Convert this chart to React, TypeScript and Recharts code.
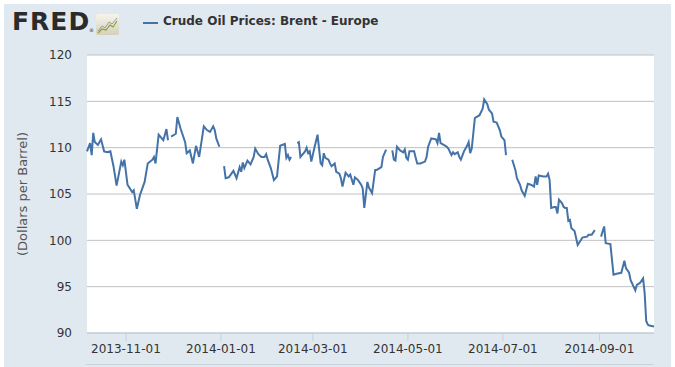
import { LineChart, Line, XAxis, YAxis, CartesianGrid } from 'recharts';

// Brent daily close (null = no quote, line breaks)
const dates = [
  '2013-10-07', '2013-10-09', '2013-10-10', '2013-10-11', '2013-10-12', '2013-10-14', '2013-10-16', '2013-10-18',
  '2013-10-20', '2013-10-22', '2013-10-24', '2013-10-26', '2013-10-29', '2013-10-30', '2013-10-31', '2013-11-02',
  '2013-11-05', '2013-11-06', '2013-11-08', '2013-11-10', '2013-11-13', '2013-11-15', '2013-11-18', '2013-11-19',
  '2013-11-20', '2013-11-22', '2013-11-25', '2013-11-27', '2013-11-28', '2013-11-29', '2013-11-30', '2013-12-03',
  '2013-12-04', '2013-12-06', '2013-12-09', '2013-12-10', '2013-12-12', '2013-12-14', '2013-12-16', '2013-12-18',
  '2013-12-21', '2013-12-23', '2013-12-25', '2013-12-27', '2013-12-28', '2013-12-29', '2013-12-31', '2014-01-02',
  '2014-01-03', '2014-01-04', '2014-01-06', '2014-01-09', '2014-01-11', '2014-01-13', '2014-01-14', '2014-01-15',
  '2014-01-16', '2014-01-18', '2014-01-20', '2014-01-22', '2014-01-23', '2014-01-25', '2014-01-27', '2014-01-29',
  '2014-01-30', '2014-01-31', '2014-02-02', '2014-02-04', '2014-02-06', '2014-02-08', '2014-02-11', '2014-02-12',
  '2014-02-13', '2014-02-14', '2014-02-15', '2014-02-17', '2014-02-19', '2014-02-20', '2014-02-21', '2014-02-24',
  '2014-02-25', '2014-02-26', '2014-02-27', '2014-02-28', '2014-03-02', '2014-03-04', '2014-03-06', '2014-03-07',
  '2014-03-08', '2014-03-09', '2014-03-11', '2014-03-12', '2014-03-13', '2014-03-15', '2014-03-16', '2014-03-18',
  '2014-03-19', '2014-03-20', '2014-03-22', '2014-03-24', '2014-03-25', '2014-03-27', '2014-03-28', '2014-03-30',
  '2014-04-01', '2014-04-02', '2014-04-03', '2014-04-05', '2014-04-06', '2014-04-08', '2014-04-10', '2014-04-11',
  '2014-04-14', '2014-04-15', '2014-04-17', '2014-04-19', '2014-04-21', '2014-04-22', '2014-04-23', '2014-04-24',
  '2014-04-26', '2014-04-28', '2014-04-29', '2014-04-30', '2014-05-01', '2014-05-02', '2014-05-05', '2014-05-06',
  '2014-05-07', '2014-05-09', '2014-05-12', '2014-05-13', '2014-05-14', '2014-05-16', '2014-05-19', '2014-05-20',
  '2014-05-21', '2014-05-22', '2014-05-24', '2014-05-26', '2014-05-27', '2014-05-29', '2014-05-30', '2014-05-31',
  '2014-06-02', '2014-06-03', '2014-06-04', '2014-06-06', '2014-06-08', '2014-06-09', '2014-06-10', '2014-06-11',
  '2014-06-13', '2014-06-14', '2014-06-16', '2014-06-18', '2014-06-19', '2014-06-21', '2014-06-22', '2014-06-24',
  '2014-06-25', '2014-06-27', '2014-06-29', '2014-06-30', '2014-07-02', '2014-07-03', '2014-07-04', '2014-07-07',
  '2014-07-09', '2014-07-10', '2014-07-12', '2014-07-13', '2014-07-15', '2014-07-17', '2014-07-19', '2014-07-21',
  '2014-07-22', '2014-07-23', '2014-07-24', '2014-07-27', '2014-07-29', '2014-07-30', '2014-07-31', '2014-08-01',
  '2014-08-03', '2014-08-04', '2014-08-05', '2014-08-06', '2014-08-08', '2014-08-09', '2014-08-10', '2014-08-11',
  '2014-08-12', '2014-08-13', '2014-08-14', '2014-08-16', '2014-08-18', '2014-08-20', '2014-08-21', '2014-08-24',
  '2014-08-25', '2014-08-27', '2014-08-29', '2014-09-01', '2014-09-02', '2014-09-04', '2014-09-05', '2014-09-08',
  '2014-09-10', '2014-09-12', '2014-09-15', '2014-09-17', '2014-09-18', '2014-09-20', '2014-09-21', '2014-09-24',
  '2014-09-25', '2014-09-27', '2014-09-29', '2014-09-30', '2014-10-01', '2014-10-02', '2014-10-03', '2014-10-06',
];

const prices: (number | null)[] = [
  109.6, 110.5, 109.2, 111.6, 110.6, 110.3, 110.9, 109.6,
  109.5, 109.6, 108.0, 105.9, 108.5, 108.1, 108.7, 106.0,
  105.2, 105.4, 103.4, 104.9, 106.3, 108.3, 108.7, 109.0,
  108.3, 111.4, 110.8, 112.0, 110.8, null, 111.2, 111.5,
  113.3, 112.1, 110.6, 109.4, 109.7, 108.3, 110.2, 109.0,
  112.3, 111.9, 111.7, 112.3, 111.9, 111.0, 110.1, null,
  108.0, 106.7, 106.8, 107.5, 106.7, 107.9, 107.4, 108.4,
  107.8, 108.6, 108.2, 109.0, 109.9, 109.3, 109.0, 109.0,
  109.3, 108.7, 107.8, 106.5, 106.9, 110.2, 110.4, 108.9,
  109.2, 108.7, 109.0, null, 110.5, 110.6, 109.0, 109.6,
  110.0, 109.4, 109.6, 108.5, 110.0, 111.4, 108.3, 108.1,
  109.4, 108.9, 108.7, 108.3, 108.0, 108.3, 107.4, 107.2,
  106.7, 105.8, 107.3, 106.9, 107.1, 106.0, 106.8, 106.5,
  106.0, 105.6, 103.5, 106.3, 105.7, 105.1, 107.6, 107.6,
  107.9, 109.0, 109.8, null, 109.7, 108.7, 108.6, 110.1,
  109.7, 109.5, 109.8, 108.9, 108.7, 109.6, 109.6, 108.9,
  108.3, 108.3, 108.5, 109.0, 110.1, 111.0, 110.9, 110.5,
  111.6, 110.5, 110.3, 110.1, 109.9, 109.2, 109.5, 109.3,
  109.5, 109.0, 108.7, 109.6, 110.2, 110.6, 109.4, 109.9,
  113.2, 113.3, 113.5, 114.2, 115.2, 114.7, 114.1, 113.7,
  112.8, 112.7, 111.9, 111.2, 110.8, 109.2, null, 108.7,
  107.6, 106.7, 106.0, 105.4, 104.8, 106.1, 106.0, 105.8,
  106.9, 106.0, 107.0, 106.9, 106.9, 107.2, 106.5, 103.5,
  103.6, 103.6, 102.9, 104.4, 104.0, 103.6, 103.5, 103.5,
  102.1, 102.2, 101.3, 101.0, 99.5, 100.0, 100.3, 100.4,
  100.6, 100.6, 101.1, null, 100.4, 101.5, 99.7, 99.6,
  96.3, 96.4, 96.5, 97.8, 97.0, 96.5, 95.7, 94.6,
  95.2, 95.4, 95.9, 94.3, 91.3, 90.9, 90.8, 90.7,
];

const yTicks = [90, 95, 100, 105, 110, 115, 120];
const xTickDates = ['2013-11-01', '2014-01-01', '2014-03-01', '2014-05-01', '2014-07-01', '2014-09-01'];
const seriesName = 'Crude Oil Prices: Brent - Europe';
const yLabel = '(Dollars per Barrel)';

const data = dates.map((d, i) => ({ t: Date.parse(d), price: prices[i] }));
const xTicks = xTickDates.map((d) => Date.parse(d));
const xDomain = [Date.parse(dates[0]), Date.parse(dates[dates.length - 1])];

const font = '"DejaVu Sans", Verdana, sans-serif';

export default function App() {
  return (
    <div style={{ position: 'absolute', left: 0, top: 0, width: 675, height: 367, background: '#fff', overflow: 'hidden', fontFamily: font }}>
      <div style={{ position: 'absolute', left: 4, top: 4, width: 667, height: 363, background: '#e1e9f0' }} />

      {/* logo */}
      <div style={{ position: 'absolute', left: 12, top: 7, fontSize: 25, fontWeight: 'bold', color: '#2b2b2b', letterSpacing: 1, lineHeight: '30px' }}>
        FRED
      </div>
      <div style={{ position: 'absolute', left: 89, top: 27, fontSize: 5, color: '#2b2b2b' }}>®</div>
      <svg style={{ position: 'absolute', left: 96, top: 14 }} width={23} height={21}>
        <defs>
          <linearGradient id="logoBg" x1="0" y1="0" x2="0" y2="1">
            <stop offset="0%" stopColor="#f6f4ec" />
            <stop offset="100%" stopColor="#d6d0ba" />
          </linearGradient>
        </defs>
        <rect x={0} y={0} width={23} height={21} rx={2} fill="url(#logoBg)" />
        <polyline points="2,17 6,12 9,14 13,8 16,10 21,4" fill="none" stroke="#9a9a9a" strokeWidth={1} />
        <polyline points="2,19 6,15 10,16 14,11 17,13 21,7" fill="none" stroke="#7fa23c" strokeWidth={1.2} />
      </svg>

      {/* legend */}
      <div style={{ position: 'absolute', left: 143, top: 22, width: 15, height: 2, background: '#4572a7' }} />
      <div style={{ position: 'absolute', left: 163, top: 14, fontSize: 12, fontWeight: 'bold', color: '#333', whiteSpace: 'nowrap' }}>
        {seriesName}
      </div>

      {/* y axis title */}
      <div
        style={{
          position: 'absolute', left: 22, top: 194, fontSize: 13, color: '#555', whiteSpace: 'nowrap',
          transform: 'translate(-50%, -50%) rotate(-90deg)',
        }}
      >
        {yLabel}
      </div>

      <div style={{ position: 'absolute', left: 86, top: 364, width: 568, height: 1, background: '#c8d3de' }} />

      <div style={{ position: 'absolute', left: 0, top: 0 }}>
        <LineChart width={675} height={367} data={data} margin={{ top: 55, right: 21, bottom: 0, left: 0 }}>
          <CartesianGrid vertical={false} stroke="#c0c0c0" fill="#fff" />
          <XAxis
            dataKey="t"
            type="number"
            domain={xDomain}
            ticks={xTicks}
            tickFormatter={(v) => new Date(v).toISOString().slice(0, 10)}
            height={34}
            axisLine={{ stroke: '#c0d0e0' }}
            tickLine={{ stroke: '#c0d0e0' }}
            tickSize={8}
            tickMargin={3}
            tick={{ fill: '#333', fontSize: 12, fontFamily: font }}
          />
          <YAxis
            domain={[90, 120]}
            ticks={yTicks}
            width={87}
            axisLine={false}
            tickLine={false}
            tickSize={0}
            tickMargin={15}
            tick={{ fill: '#333', fontSize: 12, fontFamily: font }}
          />
          <Line
            type="linear"
            dataKey="price"
            stroke="#4572a7"
            strokeWidth={2}
            dot={false}
            connectNulls={false}
            isAnimationActive={false}
          />
        </LineChart>
      </div>
    </div>
  );
}
